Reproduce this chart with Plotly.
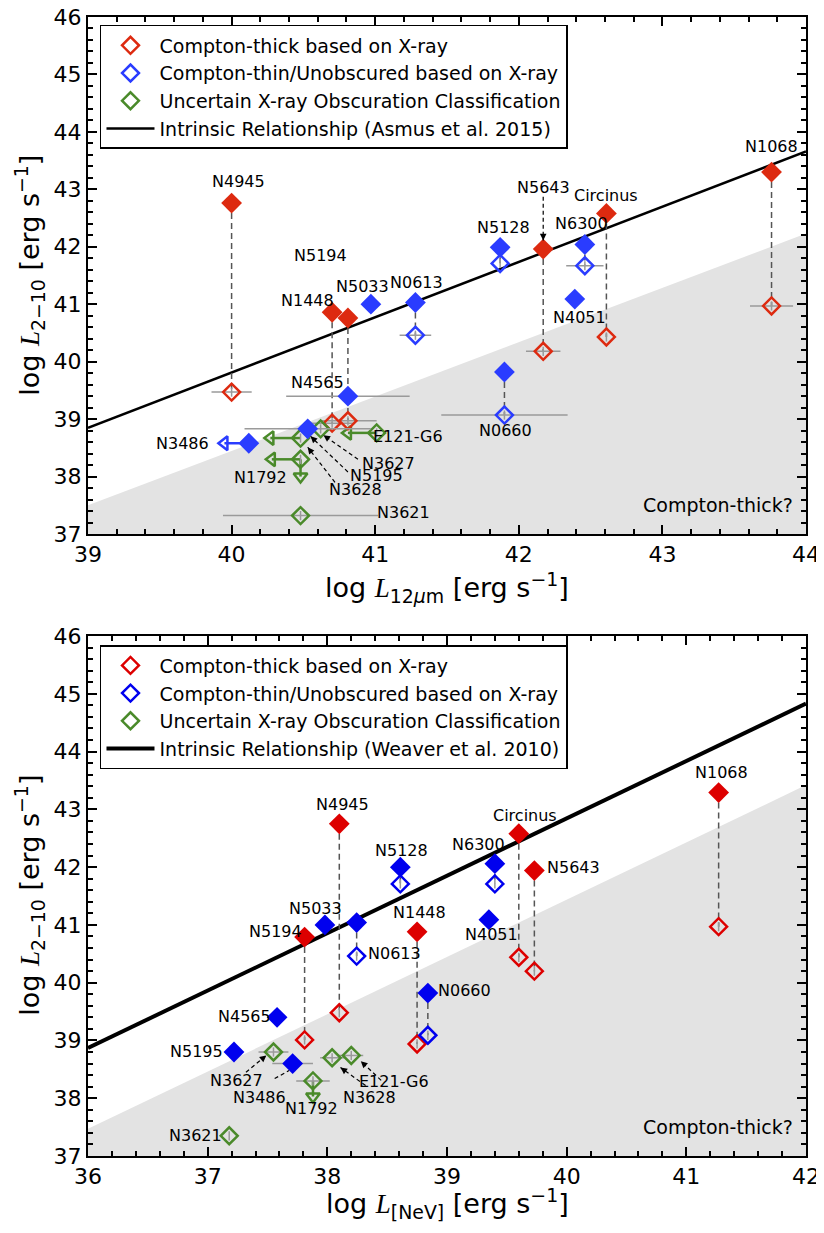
import plotly.graph_objects as go

# ---------------- data: top panel (12 micron) ----------------
# Compton-thick (red): filled = intrinsic, open = observed
mir_ct_name = ["N4945", "N1448", "N5194", "N5643", "Circinus", "N1068"]
mir_ct_x = [40.00, 40.70, 40.81, 42.17, 42.61, 43.76]
mir_ct_xerr = [0.14, 0.15, 0.20, 0.12, 0.0, 0.15]
mir_ct_fill = [42.76, 40.86, 40.76, 41.96, 42.58, 43.30]
mir_ct_open = [39.47, 38.93, 38.97, 40.18, 40.43, 40.97]

# Compton-thin (blue) with observed + intrinsic
mir_tn_name = ["N5128", "N6300", "N0613", "N0660"]
mir_tn_x = [41.87, 42.46, 41.28, 41.90]
mir_tn_xerr = [0.0, 0.13, 0.11, 0.44]
mir_tn_fill = [41.99, 42.04, 41.03, 39.82]
mir_tn_open = [41.71, 41.67, 40.46, 39.07]

# Compton-thin (blue), filled only
mir_b_name = ["N5033", "N4051", "N4565", "N3486", "N5195"]
mir_b_x = [40.97, 42.39, 40.81, 40.12, 40.53]
mir_b_y = [41.00, 41.09, 39.40, 38.58, 38.83]
mir_b_xerr = [0.0, 0.0, 0.43, 0.0, 0.44]

# uncertain (green)
mir_g_name = ["N3628", "N3627", "E121-G6", "N1792", "N3621"]
mir_g_x = [40.48, 40.62, 41.01, 40.48, 40.48]
mir_g_y = [38.67, 38.83, 38.76, 38.30, 37.32]
mir_g_xerr = [0.0, 0.0, 0.0, 0.0, 0.54]

# upper limits in x (arrow heads)
mir_xlim_x0 = [40.12, 40.48, 41.01, 40.48]
mir_xlim_x1 = [39.95, 40.27, 40.81, 40.28]
mir_xlim_y = [38.58, 38.67, 38.76, 38.30]
mir_xlim_col = ["blue", "green", "green", "green"]
mir_ylim_x = [40.48]
mir_ylim_y0 = [38.30]
mir_ylim_y1 = [38.00]

mir_rel_x = [39, 44]
mir_rel_y = [38.85, 43.66]
mir_shade_y = [37.50, 42.23]

# label positions (name, x, y)
mir_lab = [("N4945", 40.05, 43.14), ("N5194", 40.62, 41.85), ("N1448", 40.53, 41.07),
           ("N5033", 40.91, 41.30), ("N0613", 41.29, 41.37), ("N4565", 40.60, 39.63),
           ("N3486", 39.66, 38.58), ("E121-G6", 41.23, 38.69), ("N3627", 41.09, 38.23),
           ("N5195", 41.01, 38.01), ("N3628", 40.86, 37.78), ("N1792", 40.20, 37.99),
           ("N3621", 41.20, 37.37), ("N5128", 41.89, 42.34), ("N5643", 42.17, 43.03),
           ("Circinus", 42.61, 42.90), ("N6300", 42.44, 42.41), ("N4051", 42.42, 40.77),
           ("N0660", 41.91, 38.81), ("N1068", 43.76, 43.75)]
# pointer arrows (tail x, tail y, head x, head y)
mir_arr = [(40.88, 38.30, 40.64, 38.72), (40.81, 38.08, 40.55, 38.70),
           (40.72, 37.90, 40.53, 38.51), (42.17, 42.87, 42.17, 42.11)]

# ---------------- data: bottom panel ([NeV]) ----------------
nev_ct_name = ["N4945", "N5194", "N1448", "Circinus", "N5643", "N1068"]
nev_ct_x = [38.10, 37.81, 38.75, 39.60, 39.73, 41.27]
nev_ct_fill = [42.75, 40.79, 40.88, 42.58, 41.94, 43.29]
nev_ct_open = [39.48, 39.01, 38.94, 40.44, 40.20, 40.97]

nev_tn_name = ["N0613", "N5128", "N6300", "N0660"]
nev_tn_x = [38.245, 38.61, 39.40, 38.84]
nev_tn_fill = [41.04, 42.00, 42.06, 39.82]
nev_tn_open = [40.46, 41.71, 41.71, 39.09]

nev_b_name = ["N5033", "N4051", "N4565", "N5195", "N3486"]
nev_b_x = [37.98, 39.35, 37.58, 37.22, 37.71]
nev_b_y = [41.00, 41.09, 39.40, 38.80, 38.60]
nev_b_xerr = [0.0, 0.0, 0.0, 0.0, 0.17]

nev_g_name = ["N3627", "N1792", "N3628", "E121-G6", "N3621"]
nev_g_x = [37.55, 37.88, 38.04, 38.20, 37.18]
nev_g_y = [38.80, 38.30, 38.70, 38.74, 37.35]
nev_g_xerr = [0.125, 0.14, 0.10, 0.10, 0.0]
nev_ylim_x = [37.88]
nev_ylim_y0 = [38.30]
nev_ylim_y1 = [38.03]

nev_rel_x = [36, 42]
nev_rel_y = [38.87, 44.83]
nev_shade_y = [37.47, 43.42]

nev_lab = [("N4945", 38.13, 43.09), ("N5194", 37.57, 40.89), ("N5033", 37.90, 41.29),
           ("N0613", 38.56, 40.51), ("N4565", 37.31, 39.42), ("N5195", 36.91, 38.81),
           ("N5128", 38.62, 42.29), ("N6300", 39.26, 42.39), ("Circinus", 39.65, 42.90),
           ("N5643", 40.06, 41.99), ("N1068", 41.29, 43.63), ("N1448", 38.77, 41.21),
           ("N4051", 39.37, 40.83), ("N0660", 39.15, 39.87), ("N3627", 37.24, 38.30),
           ("N3486", 37.43, 38.02), ("N1792", 37.87, 37.82), ("N3628", 38.35, 38.02),
           ("E121-G6", 38.56, 38.29), ("N3621", 36.90, 37.35)]
nev_arr = [(37.32, 38.45, 37.49, 38.74), (37.56, 38.34, 37.68, 38.48),
           (38.32, 38.22, 38.11, 38.53), (38.45, 38.31, 38.28, 38.64)]

# ---------------- styling ----------------
FONT = "DejaVu Sans"
GRAY = "#9a9a9a"
DASH = "#555555"

fig = go.Figure()


def panel(xa, ya, leg, cols, rel_x, rel_y, shade_y, ymin,
          ct, tn, b, g, xlims, ylims, labels, arrows, rel_name, rel_w):
    red, blue, green = cols
    colmap = {"blue": blue, "green": green}
    kw = dict(xaxis=xa, yaxis=ya)
    # shaded region
    fig.add_trace(go.Scatter(x=[rel_x[0], rel_x[1], rel_x[1], rel_x[0]],
                             y=[shade_y[0], shade_y[1], ymin, ymin], fill="toself",
                             fillcolor="#e3e3e3", line=dict(width=0), mode="lines",
                             showlegend=False, hoverinfo="skip", **kw))
    # relation
    fig.add_trace(go.Scatter(x=rel_x, y=rel_y, mode="lines", line=dict(color="black", width=rel_w),
                             showlegend=False, **kw))
    # dashed connectors
    cx, cy = [], []
    for (x, f, o) in zip(ct[1], ct[2], ct[3]):
        cx += [x, x, None]
        cy += [f, o, None]
    for (x, f, o) in zip(tn[1], tn[2], tn[3]):
        cx += [x, x, None]
        cy += [f, o, None]
    fig.add_trace(go.Scatter(x=cx, y=cy, mode="lines", line=dict(color=DASH, width=1.5, dash="6px,4px"),
                             showlegend=False, **kw))
    # limit arrows
    for (x0, x1, y, c) in zip(*xlims):
        col = colmap[c]
        fig.add_trace(go.Scatter(x=[x0, x1], y=[y, y], mode="lines", line=dict(color=col, width=2.5),
                                 showlegend=False, **kw))
        fig.add_trace(go.Scatter(x=[x1], y=[y], mode="markers",
                                 marker=dict(symbol="triangle-left-open", size=12, color=col,
                                             line=dict(width=2.5, color=col)),
                                 showlegend=False, **kw))
    for (x, y0, y1) in zip(*ylims):
        fig.add_trace(go.Scatter(x=[x, x], y=[y0, y1], mode="lines", line=dict(color=green, width=2.5),
                                 showlegend=False, **kw))
        fig.add_trace(go.Scatter(x=[x], y=[y1], mode="markers",
                                 marker=dict(symbol="triangle-down-open", size=12, color=green,
                                             line=dict(width=2.5, color=green)),
                                 showlegend=False, **kw))
    err = dict(type="data", color=GRAY, thickness=1.5, width=0)
    yerr = dict(type="constant", value=0.08, color=GRAY, thickness=1.5, width=0)

    def opn(x, y, xerr, col):
        fig.add_trace(go.Scatter(x=x, y=y, mode="markers",
                                 error_x=dict(array=xerr, **err) if xerr is not None else None,
                                 error_y=yerr,
                                 marker=dict(symbol="diamond-open", size=13, color=col,
                                             line=dict(width=2.5, color=col)),
                                 showlegend=False, **kw))

    def fil(x, y, xerr, col):
        fig.add_trace(go.Scatter(x=x, y=y, mode="markers",
                                 error_x=dict(array=xerr, **err) if xerr is not None else None,
                                 marker=dict(symbol="diamond", size=16, color=col, line=dict(width=0)),
                                 showlegend=False, **kw))

    opn(ct[1], ct[3], ct[4], red)
    opn(tn[1], tn[3], tn[4], blue)
    opn(g[1], g[2], g[3], green)
    fil(ct[1], ct[2], None, red)
    fil(tn[1], tn[2], None, blue)
    fil(b[1], b[2], b[3], blue)

    # legend entries
    for i, (nm, col) in enumerate([("Compton-thick based on X-ray", red),
                                   ("Compton-thin/Unobscured based on X-ray", blue),
                                   ("Uncertain X-ray Obscuration Classification", green)]):
        fig.add_trace(go.Scatter(x=[None], y=[None], mode="markers", name=nm, legend=leg,
                                 legendgroup=leg + str(i),
                                 marker=dict(symbol="diamond-open", size=13, color=col,
                                             line=dict(width=2.5, color=col)), **kw))
    fig.add_trace(go.Scatter(x=[None], y=[None], mode="lines", name=rel_name, legend=leg,
                             legendgroup=leg + "3",
                             line=dict(color="black", width=rel_w), **kw))

    # labels
    for (t, x, y) in labels:
        fig.add_annotation(x=x, y=y, xref=xa, yref=ya, text=t, showarrow=False,
                           font=dict(family=FONT, size=16, color="black"))
    for (tx, ty, hx, hy) in arrows:
        fig.add_trace(go.Scatter(x=[tx, hx], y=[ty, hy], mode="lines",
                                 line=dict(color="black", width=1.2, dash="4px,3px"),
                                 showlegend=False, **kw))
        fig.add_annotation(x=hx, y=hy, ax=hx + 0.15 * (tx - hx), ay=hy + 0.15 * (ty - hy),
                           xref=xa, yref=ya, axref=xa, ayref=ya, text="", showarrow=True,
                           arrowhead=2, arrowsize=1.1, arrowwidth=1.2, arrowcolor="black")


panel("x", "y", "legend", ("#dd2a10", "#2a3cff", "#4a8a2a"), mir_rel_x, mir_rel_y, mir_shade_y, 37,
      (mir_ct_name, mir_ct_x, mir_ct_fill, mir_ct_open, mir_ct_xerr),
      (mir_tn_name, mir_tn_x, mir_tn_fill, mir_tn_open, mir_tn_xerr),
      (mir_b_name, mir_b_x, mir_b_y, mir_b_xerr),
      (mir_g_name, mir_g_x, mir_g_y, mir_g_xerr),
      (mir_xlim_x0, mir_xlim_x1, mir_xlim_y, mir_xlim_col),
      (mir_ylim_x, mir_ylim_y0, mir_ylim_y1),
      mir_lab, mir_arr, "Intrinsic Relationship (Asmus et al. 2015)", 2.5)

panel("x2", "y2", "legend2", ("#dd0000", "#0000ee", "#4a8a2a"), nev_rel_x, nev_rel_y, nev_shade_y, 37,
      (nev_ct_name, nev_ct_x, nev_ct_fill, nev_ct_open, None),
      (nev_tn_name, nev_tn_x, nev_tn_fill, nev_tn_open, None),
      (nev_b_name, nev_b_x, nev_b_y, nev_b_xerr),
      (nev_g_name, nev_g_x, nev_g_y, nev_g_xerr),
      ([], [], [], []),
      (nev_ylim_x, nev_ylim_y0, nev_ylim_y1),
      nev_lab, nev_arr, "Intrinsic Relationship (Weaver et al. 2010)", 4)

for xa, ya in [("x", "y"), ("x2", "y2")]:
    fig.add_annotation(x=0.985, y=0.03, xref=xa + " domain", yref=ya + " domain", text="Compton-thick?",
                       showarrow=False, xanchor="right", yanchor="bottom",
                       font=dict(family=FONT, size=19, color="black"))

# axis titles as paper annotations
LSER = "<span style='font-family:Liberation Serif'><i>L</i></span>"
ytitle = "log " + LSER + "<sub>2−10</sub> [erg s<sup>−1</sup>]"
TF = dict(family=FONT, size=27, color="black")
tkw = dict(xref="paper", yref="paper", showarrow=False, font=TF, xanchor="center", yanchor="middle")
fig.add_annotation(x=-0.081, y=0.7735, text=ytitle, textangle=-90, **tkw)
fig.add_annotation(x=-0.081, y=0.2292, text=ytitle, textangle=-90, **tkw)
fig.add_annotation(x=0.5, y=0.4987, text="log " + LSER + "<sub>12<i>μ</i>m</sub> [erg s<sup>−1</sup>]",
                   **tkw)
fig.add_annotation(x=0.5, y=-0.0413, text="log " + LSER + "<sub>[NeV]</sub> [erg s<sup>−1</sup>]",
                   **tkw)

ax_common = dict(showline=True, linecolor="black", linewidth=2, mirror="allticks", ticks="inside",
                 ticklen=9, tickwidth=2, tickcolor="black", showgrid=False, zeroline=False, dtick=1,
                 automargin=False, ticklabeloverflow="allow",
                 tickfont=dict(family=FONT, size=22, color="black"),
                 minor=dict(ticks="inside", ticklen=5, tickwidth=1.5, tickcolor="black", dtick=0.2,
                            showgrid=False))
fig.update_layout(
    width=824, height=1233, plot_bgcolor="white", paper_bgcolor="white",
    margin=dict(l=80, r=26, t=9, b=85),
    xaxis=dict(domain=[0, 1], range=[39, 44], anchor="y", **ax_common),
    yaxis=dict(domain=[0.5461, 1], range=[37, 46], anchor="x", **ax_common),
    xaxis2=dict(domain=[0, 1], range=[36, 42], anchor="y2", **ax_common),
    yaxis2=dict(domain=[0, 0.4565], range=[37, 46], anchor="x2", **ax_common),
    legend=dict(x=0.0167, y=0.993, xanchor="left", yanchor="top", bgcolor="white",
                bordercolor="black", borderwidth=1.5, tracegroupgap=0, itemwidth=48,
                font=dict(family=FONT, size=19, color="black")),
    legend2=dict(x=0.0167, y=0.4486, xanchor="left", yanchor="top", bgcolor="white",
                 bordercolor="black", borderwidth=1.5, tracegroupgap=0, itemwidth=48,
                 font=dict(family=FONT, size=19, color="black")),
)

fig.write_html("out.html")
